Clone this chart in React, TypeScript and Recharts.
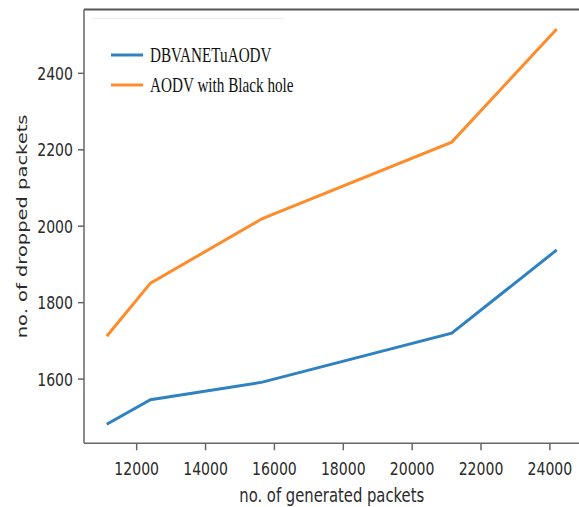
import { Legend, Line, LineChart, ReferenceLine, XAxis, YAxis } from "recharts";

// values
const generatedPackets = [11130, 12400, 15650, 21150, 24200];
const dbvanetDropped = [1482, 1546, 1592, 1720, 1938];
const blackholeDropped = [1712, 1851, 2020, 2220, 2516];
const seriesNames = ["DBVANETuAODV", "AODV with Black hole"];

const xTicks = [12000, 14000, 16000, 18000, 20000, 22000, 24000];
const yTicks = [1600, 1800, 2000, 2200, 2400];

const X_DOMAIN: [number, number] = [10470, 24860];
const Y_DOMAIN: [number, number] = [1432, 2567];

const BLUE = "#2e82c2";
const ORANGE = "#ff8c2a";
const SPINE = "#666";
const TEXT = "#2a2a2a";
const SQUEEZE = 0.76; // the source image is narrower than it is tall

const data = generatedPackets.map((x, i) => ({
  x,
  dbvanet: dbvanetDropped[i],
  blackhole: blackholeDropped[i],
}));

function XTick({ x, y, payload }: any) {
  return (
    <text
      transform={`translate(${x},${y + 23}) scale(${SQUEEZE},1)`}
      textAnchor="middle"
      fontFamily="DejaVu Sans"
      fontSize={18.5}
      fill={TEXT}
    >
      {payload.value}
    </text>
  );
}

function YTick({ x, y, payload }: any) {
  return (
    <text
      transform={`translate(${x - 3},${y + 6.7}) scale(${SQUEEZE},1)`}
      textAnchor="end"
      fontFamily="DejaVu Sans"
      fontSize={18.5}
      fill={TEXT}
    >
      {payload.value}
    </text>
  );
}

function XLabel({ viewBox }: any) {
  const cx = viewBox ? viewBox.x + viewBox.width / 2 : 332;
  return (
    <text
      transform={`translate(${cx},502) scale(${SQUEEZE},1)`}
      textAnchor="middle"
      fontFamily="DejaVu Sans"
      fontSize={19.5}
      fill={TEXT}
    >
      no. of generated packets
    </text>
  );
}

function YLabel({ viewBox }: any) {
  const cy = viewBox ? viewBox.y + viewBox.height / 2 : 228;
  return (
    <text
      transform={`translate(27,${cy}) rotate(-90) scale(1,${SQUEEZE})`}
      textAnchor="middle"
      fontFamily="DejaVu Sans"
      fontSize={19.5}
      fill={TEXT}
    >
      no. of dropped packets
    </text>
  );
}

function LegendBox({ payload }: any) {
  const items = [...(payload || [])].sort(
    (a: any, b: any) => seriesNames.indexOf(a.value) - seriesNames.indexOf(b.value)
  );
  return (
    <svg width={200} height={90} style={{ display: "block", overflow: "visible" }}>
      <line x1={0} y1={0.5} x2={192} y2={0.5} stroke="#ececec" strokeWidth={1} />
      {items.map((p: any, i: number) => {
        const cy = 37 + i * 30;
        return (
          <g key={p.value}>
            <line x1={19} y1={cy} x2={51} y2={cy} stroke={p.color} strokeWidth={3} />
            <text
              transform={`translate(58,${cy + 6.7}) scale(${SQUEEZE},1)`}
              fontFamily="Liberation Serif"
              fontSize={20}
              fill="#111"
            >
              {p.value}
            </text>
          </g>
        );
      })}
    </svg>
  );
}

export default function App() {
  return (
    <div
      style={{
        position: "absolute",
        left: 0,
        top: 0,
        width: 579,
        height: 507,
        overflow: "hidden",
        background: "#fff",
      }}
    >
      <LineChart
        width={600}
        height={507}
        data={data}
        margin={{ top: 9.5, right: 20.5, left: 0, bottom: 0 }}
      >
        <XAxis
          type="number"
          dataKey="x"
          domain={X_DOMAIN}
          ticks={xTicks}
          allowDataOverflow
          height={63.7}
          tickSize={7}
          tick={<XTick />}
          tickLine={{ stroke: SPINE, strokeWidth: 1.5 }}
          axisLine={{ stroke: SPINE, strokeWidth: 1.5 }}
          label={XLabel}
        />
        <YAxis
          type="number"
          domain={Y_DOMAIN}
          ticks={yTicks}
          allowDataOverflow
          width={84}
          tickSize={6}
          tick={<YTick />}
          tickLine={{ stroke: SPINE, strokeWidth: 1.5 }}
          axisLine={{ stroke: SPINE, strokeWidth: 1.5 }}
          label={YLabel}
        />
        <ReferenceLine y={Y_DOMAIN[1]} stroke="#555" strokeWidth={2} />
        <Legend
          layout="horizontal"
          verticalAlign="middle"
          wrapperStyle={{ left: 92, top: 18, width: 200, height: 90 }}
          content={<LegendBox />}
        />
        <Line
          type="linear"
          dataKey="dbvanet"
          name={seriesNames[0]}
          stroke={BLUE}
          strokeWidth={3}
          dot={false}
          isAnimationActive={false}
        />
        <Line
          type="linear"
          dataKey="blackhole"
          name={seriesNames[1]}
          stroke={ORANGE}
          strokeWidth={3}
          dot={false}
          isAnimationActive={false}
        />
      </LineChart>
    </div>
  );
}
